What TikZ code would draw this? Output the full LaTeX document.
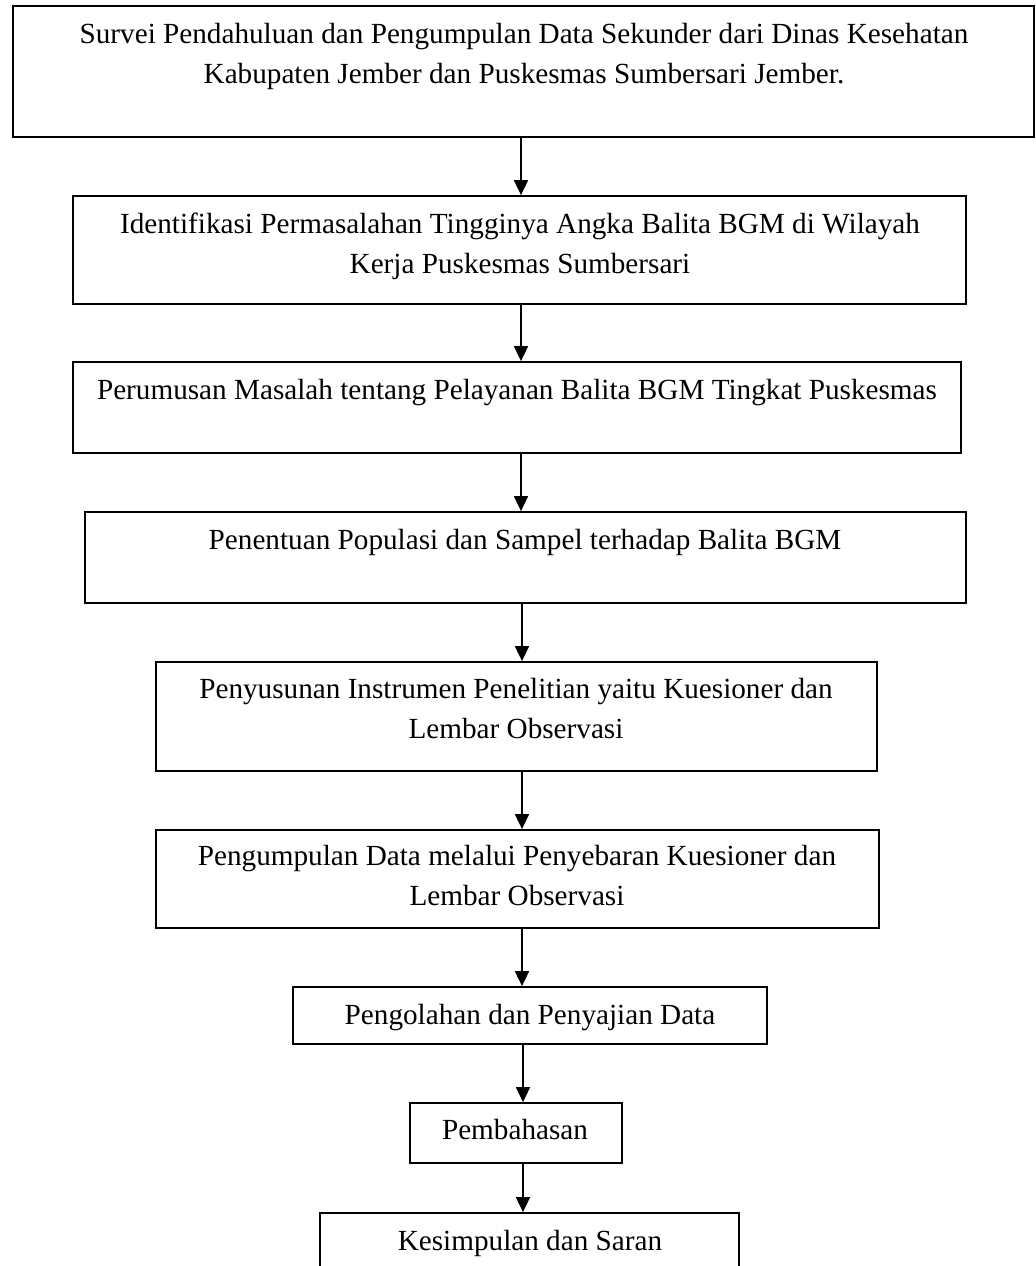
\documentclass[tikz,border=0pt]{standalone}
\usepackage{fontspec}
\setmainfont{Liberation Serif}
\usetikzlibrary{arrows.meta,fit}
\begin{document}
\begin{tikzpicture}[x=0.5pt,y=-0.5pt,
  stepbox/.style={draw=black, line width=0.9pt, inner sep=0pt, fit={#1}},
  lbl/.style={anchor=base, align=center, inner sep=0pt, font=\fontsize{14.6pt}{19.75pt}\selectfont},
  arr/.style={line width=0.9pt, -{Triangle[length=7.5pt,width=7pt]}}]
\clip (0,0) rectangle (1036,1266);
\fill[white] (0,0) rectangle (1036,1266);
% boxes
\node[stepbox={(13,6) (1034,137)}] (b1) {};
\node[stepbox={(73,196) (966,304)}] (b2) {};
\node[stepbox={(73,362) (961,453)}] (b3) {};
\node[stepbox={(85,512) (966,603)}] (b4) {};
\node[stepbox={(156,662) (877,771)}] (b5) {};
\node[stepbox={(156,830) (879,928)}] (b6) {};
\node[stepbox={(293,987) (767,1044)}] (b7) {};
\node[stepbox={(410,1103) (622,1163)}] (b8) {};
\node[stepbox={(320,1213) (739,1300)}] (b9) {};
% texts (base anchor = baseline of last line)
\node[lbl] (t1) at (524,83) {Survei Pendahuluan dan Pengumpulan Data Sekunder dari Dinas Kesehatan\\Kabupaten Jember dan Puskesmas Sumbersari Jember.};
\node[lbl] (t2) at (520,273) {Identifikasi Permasalahan Tingginya Angka Balita BGM di Wilayah\\Kerja Puskesmas Sumbersari};
\node[lbl] (t3) at (517,399) {Perumusan Masalah tentang Pelayanan Balita BGM Tingkat Puskesmas};
\node[lbl] (t4) at (525,549) {Penentuan Populasi dan Sampel terhadap Balita BGM};
\node[lbl] (t5) at (516,738) {Penyusunan Instrumen Penelitian yaitu Kuesioner dan\\Lembar Observasi};
\node[lbl] (t6) at (517,905) {Pengumpulan Data melalui Penyebaran Kuesioner dan\\Lembar Observasi};
\node[lbl] (t7) at (530,1024) {Pengolahan dan Penyajian Data};
\node[lbl] (t8) at (515,1139) {Pembahasan};
\node[lbl] (t9) at (530,1250) {Kesimpulan dan Saran};
% arrow columns
\coordinate (ax1) at (521,0);
\coordinate (ax2) at (522,0);
\coordinate (ax3) at (523,0);
\draw[arr] (b1.south -| ax1) -- (b2.north -| ax1);
\draw[arr] (b2.south -| ax1) -- (b3.north -| ax1);
\draw[arr] (b3.south -| ax1) -- (b4.north -| ax1);
\draw[arr] (b4.south -| ax2) -- (b5.north -| ax2);
\draw[arr] (b5.south -| ax2) -- (b6.north -| ax2);
\draw[arr] (b6.south -| ax2) -- (b7.north -| ax2);
\draw[arr] (b7.south -| ax3) -- (b8.north -| ax3);
\draw[arr] (b8.south -| ax3) -- (b9.north -| ax3);
\end{tikzpicture}
\end{document}
